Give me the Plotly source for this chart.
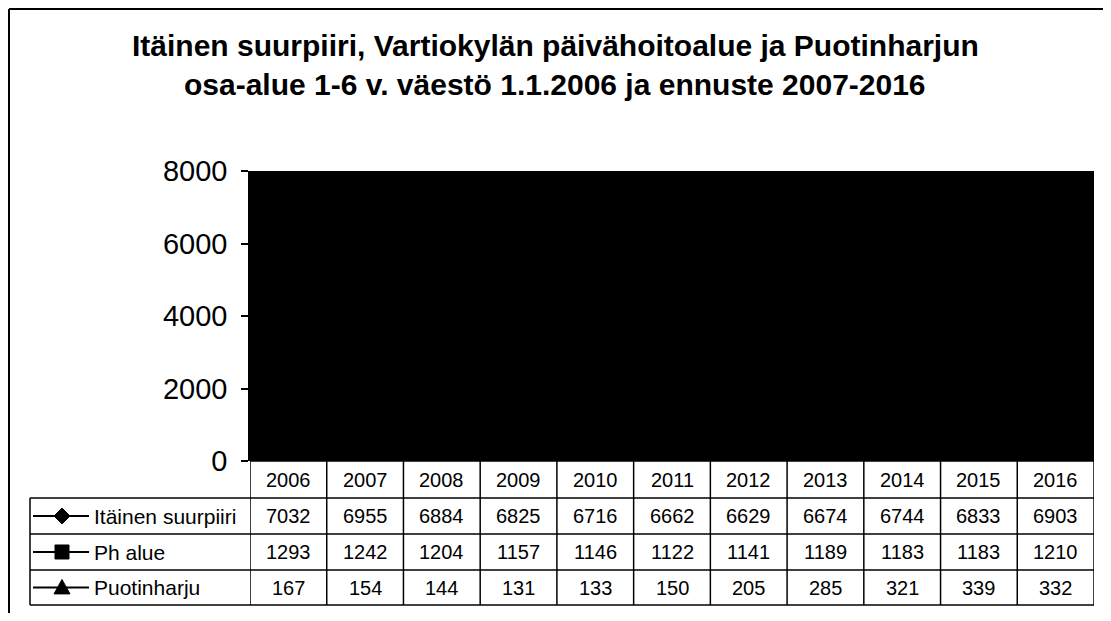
import plotly.graph_objects as go

# figure sized so that, with the page's 8px body margin, it fills the 1111x621 window
W, H = 1095, 605
OFF = 8

years = [2006, 2007, 2008, 2009, 2010, 2011, 2012, 2013, 2014, 2015, 2016]
itainen = [7032, 6955, 6884, 6825, 6716, 6662, 6629, 6674, 6744, 6833, 6903]
ph_alue = [1293, 1242, 1204, 1157, 1146, 1122, 1141, 1189, 1183, 1183, 1210]
puotinharju = [167, 154, 144, 131, 133, 150, 205, 285, 321, 339, 332]
series_names = ["Itäinen suurpiiri", "Ph alue", "Puotinharju"]
series_symbols = ["diamond", "square", "triangle-up"]
title_lines = ["Itäinen suurpiiri, Vartiokylän päivähoitoalue ja Puotinharjun",
               "osa-alue 1-6 v. väestö 1.1.2006 ja ennuste 2007-2016"]


def px(x):
    return (x - OFF) / W


def py(y):
    return 1 - (y - OFF) / H


PLOT_L, PLOT_R, PLOT_T, PLOT_B = 250, 1094, 171, 461
ROWS = [461, 498, 534, 570, 605]
TABLE_L = 30
FONT = "Liberation Sans, Arial, sans-serif"

fig = go.Figure()
for name, vals, sym in zip(series_names, [itainen, ph_alue, puotinharju], series_symbols):
    fig.add_trace(go.Scatter(x=years, y=vals, mode="lines+markers", name=name,
                             line=dict(color="#000000", width=2),
                             marker=dict(symbol=sym, size=8, color="#000000"),
                             showlegend=False, hoverinfo="skip"))

shapes = []
annotations = []

# outer frame (left and top edges)
shapes.append(dict(type="line", xref="paper", yref="paper", x0=px(9), x1=px(9), y0=py(9), y1=py(640),
                   line=dict(color="black", width=2)))
shapes.append(dict(type="line", xref="paper", yref="paper", x0=px(9), x1=px(1130), y0=py(9), y1=py(9),
                   line=dict(color="black", width=2)))

# title
title_y = [46, 85]
for t, ty in zip(title_lines, title_y):
    annotations.append(dict(text="<b>" + t + "</b>", x=px(555), y=py(ty), xref="paper", yref="paper",
                            xanchor="center", yanchor="middle", showarrow=False,
                            font=dict(family=FONT, size=30, color="black")))

lw = dict(color="black", width=1.5)
# horizontal table lines
for k, yb in enumerate(ROWS):
    x0 = PLOT_L if k == 0 else TABLE_L
    shapes.append(dict(type="line", xref="paper", yref="paper", x0=px(x0), x1=px(PLOT_R),
                       y0=py(yb), y1=py(yb), line=lw))
# left legend border
shapes.append(dict(type="line", xref="paper", yref="paper", x0=px(TABLE_L), x1=px(TABLE_L),
                   y0=py(ROWS[1]), y1=py(ROWS[-1]), line=lw))
# column boundaries
for yv in years + [years[-1] + 1]:
    shapes.append(dict(type="line", xref="x", yref="paper", x0=yv - 0.5, x1=yv - 0.5,
                       y0=py(ROWS[0]), y1=py(ROWS[-1]), line=lw))

tfont = dict(family=FONT, size=20, color="black")
lfont = dict(family=FONT, size=21, color="black")
# year header
for yv in years:
    annotations.append(dict(text=str(yv), x=yv, y=py((ROWS[0] + ROWS[1]) / 2), xref="x", yref="paper",
                            xanchor="center", yanchor="middle", showarrow=False, font=tfont))
# values and legend keys
for r, vals in enumerate([itainen, ph_alue, puotinharju]):
    yc = (ROWS[r + 1] + ROWS[r + 2]) / 2
    for yv, v in zip(years, vals):
        annotations.append(dict(text=str(v), x=yv, y=py(yc), xref="x", yref="paper",
                                xanchor="center", yanchor="middle", showarrow=False, font=tfont))
    annotations.append(dict(text=series_names[r], x=px(92), y=py(yc), xref="paper", yref="paper",
                            xanchor="left", yanchor="middle", showarrow=False, font=lfont))
    shapes.append(dict(type="line", xref="paper", yref="paper", x0=px(33), x1=px(89), y0=py(yc), y1=py(yc),
                       line=dict(color="black", width=2)))
    cx = 62
    if r == 0:
        s = 8
        pts = [(cx - s, yc), (cx, yc - s), (cx + s, yc), (cx, yc + s)]
    elif r == 1:
        s = 7
        pts = [(cx - s, yc - s), (cx + s, yc - s), (cx + s, yc + s), (cx - s, yc + s)]
    else:
        s = 8
        pts = [(cx - s, yc + s * 0.8), (cx, yc - s), (cx + s, yc + s * 0.8)]
    path = "M " + " L ".join(f"{px(a):.5f},{py(b):.5f}" for a, b in pts) + " Z"
    shapes.append(dict(type="path", xref="paper", yref="paper", path=path,
                       fillcolor="black", line=dict(color="black", width=1)))

fig.update_layout(
    width=W, height=H, autosize=False,
    margin=dict(l=0, r=0, t=0, b=0, pad=0),
    paper_bgcolor="white", plot_bgcolor="black",
    shapes=shapes, annotations=annotations,
    xaxis=dict(domain=[px(PLOT_L), px(PLOT_R)], range=[years[0] - 0.5, years[-1] + 0.5],
               showticklabels=False, showgrid=False, zeroline=False, ticks="", showline=False,
               automargin=False),
    yaxis=dict(domain=[py(PLOT_B), py(PLOT_T)], range=[0, 8000], dtick=2000, tick0=0,
               showgrid=False, zeroline=False, showline=True, linecolor="black", linewidth=1.5,
               ticks="outside", ticklen=7, tickcolor="black", tickwidth=1.5, ticklabelstandoff=8,
               tickfont=dict(family=FONT, size=29, color="black"), automargin=False),
)

fig.write_html("out.html")
